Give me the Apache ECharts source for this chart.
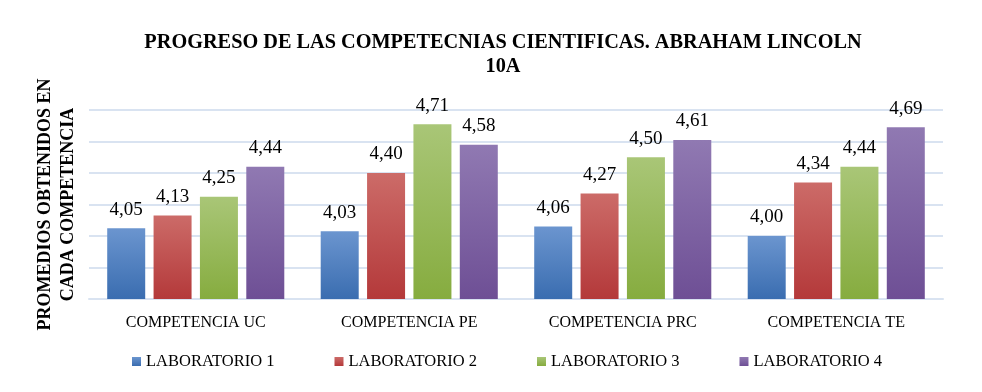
<!DOCTYPE html>
<html>
<head>
<meta charset="utf-8">
<script src="https://cdn.jsdelivr.net/npm/echarts@6/dist/echarts.min.js"></script>
<style>html,body{margin:0;padding:0;background:#fff}#c{width:982px;height:392px}</style>
</head>
<body>
<div id="c"></div>
<script>
var categories = ['COMPETENCIA UC', 'COMPETENCIA PE', 'COMPETENCIA PRC', 'COMPETENCIA TE'];
var seriesNames = ['LABORATORIO 1', 'LABORATORIO 2', 'LABORATORIO 3', 'LABORATORIO 4'];
var lab1 = [4.05, 4.03, 4.06, 4.00];
var lab2 = [4.13, 4.40, 4.27, 4.34];
var lab3 = [4.25, 4.71, 4.50, 4.44];
var lab4 = [4.44, 4.58, 4.61, 4.69];
var titleText = 'PROGRESO DE LAS COMPETECNIAS CIENTIFICAS. ABRAHAM LINCOLN\n10A';
var yName = 'PROMEDIOS OBTENIDOS EN\nCADA COMPETENCIA';

var serif = 'Liberation Serif';
var colors = [
  ['#6b95cf', '#3a6db0'],
  ['#cc6b68', '#b4393a'],
  ['#a9c677', '#86ac3f'],
  ['#9079b2', '#6e4f95']
];
var data = [lab1, lab2, lab3, lab4];

var chart = echarts.init(document.getElementById('c'), null, {renderer: 'canvas'});
chart.setOption({
  animation: false,
  title: {
    text: titleText,
    left: 498,
    textAlign: 'center',
    top: 26,
    textStyle: {fontFamily: serif, fontWeight: 'bold', fontSize: 20.3, color: '#000', lineHeight: 24}
  },
  legend: {
    bottom: 17,
    left: 127,
    itemWidth: 9,
    itemHeight: 9,
    itemGap: 60,
    icon: 'rect',
    textStyle: {fontFamily: serif, fontSize: 16.5, color: '#000'},
    data: seriesNames
  },
  grid: {left: 89, right: 39, top: 110, bottom: 93, containLabel: false},
  xAxis: {
    type: 'category',
    data: categories,
    axisLine: {lineStyle: {color: '#d9e3f1', width: 2}},
    axisTick: {show: false},
    axisLabel: {fontFamily: serif, fontSize: 16, color: '#000', margin: 16}
  },
  yAxis: {
    type: 'value',
    min: 3.6,
    max: 4.8,
    interval: 0.2,
    axisLabel: {show: false},
    axisLine: {show: false},
    axisTick: {show: false},
    splitLine: {lineStyle: {color: '#d9e3f1', width: 2}},
    name: yName,
    nameLocation: 'middle',
    nameRotate: 90,
    nameGap: 9,
    nameTextStyle: {fontFamily: serif, fontWeight: 'bold', fontSize: 18, color: '#000', lineHeight: 23}
  },
  series: data.map(function (d, i) {
    return {
      name: seriesNames[i],
      type: 'bar',
      data: d,
      barWidth: 38,
      barGap: '22%',
      itemStyle: {
        color: new echarts.graphic.LinearGradient(0, 0, 0, 1, [
          {offset: 0, color: colors[i][0]},
          {offset: 1, color: colors[i][1]}
        ])
      },
      label: {
        show: true,
        position: 'top',
        distance: 9,
        fontFamily: serif,
        fontSize: 19,
        color: '#000',
        formatter: function (p) { return p.value.toFixed(2).replace('.', ','); }
      }
    };
  })
});
</script>
</body>
</html>
